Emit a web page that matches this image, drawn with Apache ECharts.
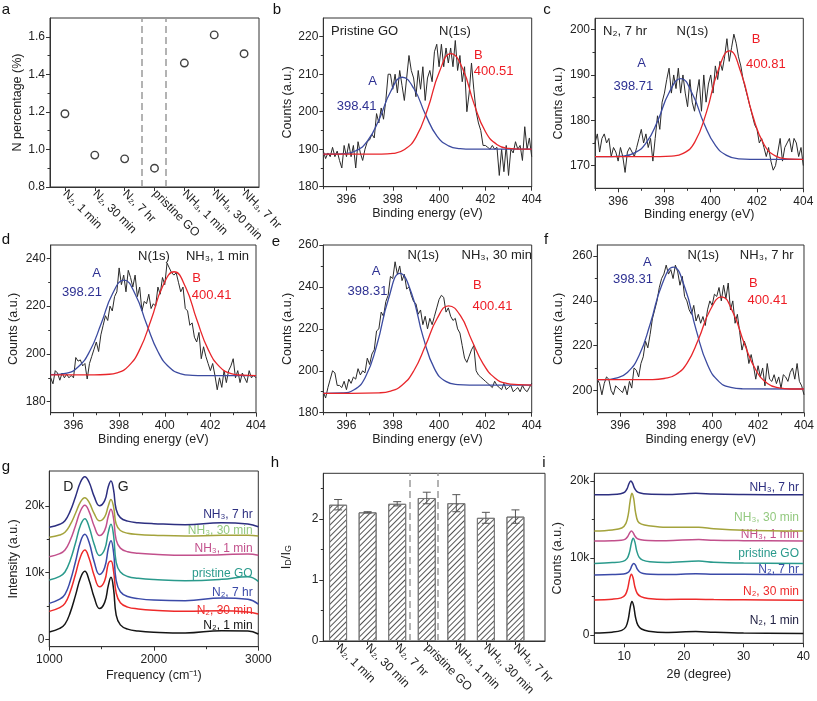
<!DOCTYPE html>
<html><head><meta charset="utf-8">
<script src="https://cdn.jsdelivr.net/npm/echarts@6.0.0/dist/echarts.min.js"></script>
<style>html,body{margin:0;padding:0;background:#fff}#c{width:817px;height:701px}</style>
</head><body><div id="c"></div>
<script>
// ---------- data ----------
const sampleCats = ['N₂, 1 min','N₂, 30 min','N₂, 7 hr','pristine GO','NH₃, 1 min','NH₃, 30 min','NH₃, 7 hr'];
const nPercent = [1.19, 0.97, 0.95, 0.90, 1.46, 1.61, 1.51];
const aDividers = [3.56, 4.39];
const idIg = [2.235, 2.11, 2.25, 2.345, 2.26, 2.02, 2.04];
const idIgErr = [0.085, 0.01, 0.035, 0.095, 0.14, 0.09, 0.11];
const hDividers = [3.41, 4.37];

// XPS raw spectra, 395.0 -> 404.0 eV, step 0.1
const xpsStart = 395.0, xpsStep = 0.1;
const bRaw = [189.5,187.5,189,188,190.5,188,189.5,187,185,191,
188,191.5,188,191,185,192,189,187,190,192,
192.5,194,193,199.5,197,201,198,203,210,210,
206,210,205,211,207,203,209,215,211,209,
204,211,206,212,203,209,211,208,216,218,
212,218,212,217,213,217,212,219,211,215,
208,212,200,205,213,206,200,197,195,191,
191,190.5,190,191,190,190.5,183,190,184,191,
183,190,189,192,190,191,187,196,190,193,188];
const cRaw = [175,177,173,176,177,175,176,172,174,173,
171,174,172,168.5,173,174,173,172,174,176,
178,175,177,174,176,171,176,181,178,184,
186,189,191.5,186,190,187,191.5,186,190,186,
183,189,184,182,186,189,182,190,184,188,
190,186,192,189,193,191,194,198,193,196,
199,197,194,192,189,187,185,183,181,179,
178,175,176,174,172,174,171,169,170,173,
176,171,174,175,176,173,176,175,172,174,170];
const dRaw = [190,187.5,193,192,189,192,190,191.5,190,191,
190,198.5,197,197.5,195,196,189.5,196,199,202,
205,201,208,212,216,214,220,218,224,226,
236,229,233,226,235,232,228,233,224,228,
218,222,221,225,219,221,220,228,225,232,
229,238,236,234,233,234,230,226,228,219,
218,212,213,207,205,209,198,203,199,196,
193,196,191,185,190,186,193,188,193,195,
198,190,193,188,192,190,188,193,190,191,190];
const eRaw = [190,187,192,196,200,199,193,193,192,195,
191,196,194,197,196,201,198,200,199,206,
203,208,210,219,220,228,226,233,236,245,
244,252,246,250,243,246,239,240,236,233,
232,227,229,222,226,220,225,222,226,230,
234,236,235,228,230,226,224,225,220,218,
212,206,204,207,210,212,200,198,197,196,
195,194,193,192,195,193,192,191,194,191,
192,193,190,191,192,190,193,191,190,192,194];
const fRaw = [205,203,198,203,206,205,200,198,202,201,
200,199,202,198,204,201,210,209,206,212,
215,222,219,225,232,236,240,246,250,252,
256,252,254,250,256,253,247,251,242,240,
236,234,238,231,234,230,233,229,236,240,
238,243,242,246,240,247,241,248,236,240,
230,234,226,218,222,219,212,216,211,205,
211,206,210,202,212,205,204,207,203,206,
201,207,206,204,208,210,205,212,204,202,198];

// XPS fitted components [eV, counts]
const bFitA = [[395,188.7],[395.41,188.7],[395.91,188.85],[396.41,189.6],[396.91,192.2],[397.41,197.95],[397.91,205.4],[398.41,209.2],[398.91,206.2],[399.41,199.3],[399.91,193.5],[400.41,190.9],[400.91,190.15],[401.41,190.0],[404,190.0]];
const bFitB = [[395,188.7],[397.51,188.7],[398.01,188.9],[398.51,189.9],[399.01,193.3],[399.51,200.8],[400.01,210.6],[400.51,215.5],[401.01,211.6],[401.51,202.1],[402.01,194.6],[402.51,191.2],[403.01,190.2],[403.51,190.0],[404,190.0]];
const cFitA = [[395,172.0],[395.71,172.0],[396.21,172.1],[396.71,172.8],[397.21,175.0],[397.71,179.9],[398.21,186.2],[398.71,189.2],[399.21,185.8],[399.71,179.3],[400.21,174.4],[400.71,172.2],[401.21,171.5],[401.71,171.4],[404,171.4]];
const cFitB = [[395,172.0],[397.81,172.0],[398.31,172.1],[398.81,172.7],[399.31,175.2],[399.81,181.7],[400.31,190.8],[400.81,195.3],[401.31,190.5],[401.81,181.1],[402.31,174.6],[402.81,172.1],[403.31,171.5],[403.81,171.4],[404,171.4]];
const dFitA = [[395,191.3],[395.71,192.0],[396.21,194.6],[396.71,201.1],[397.21,212.6],[397.71,225.2],[398.21,230.9],[398.71,224.9],[399.21,212.3],[399.71,200.8],[400.21,194.3],[400.71,191.7],[401.21,191.05],[401.71,190.9],[404,190.9]];
const dFitB = [[395,191.2],[396.91,191.2],[397.41,191.4],[397.91,192.1],[398.41,194.9],[398.91,202.0],[399.41,214.5],[399.91,228.3],[400.41,234.4],[400.91,228.0],[401.41,214.2],[401.91,201.7],[402.41,194.6],[402.91,191.8],[403.41,191.1],[404,190.9]];
const eFitA = [[395,189.2],[395.81,189.4],[396.31,190.8],[396.81,196.8],[397.31,212.2],[397.81,234.1],[398.31,246.5],[398.81,237.0],[399.31,216.2],[399.81,200.8],[400.31,194.8],[400.81,193.4],[401.31,193.2],[404,193.2]];
const eFitB = [[395,189.2],[397.41,189.5],[397.91,190.3],[398.41,193.2],[398.91,200.0],[399.41,211.9],[399.91,224.8],[400.41,231.0],[400.91,226.5],[401.41,214.6],[401.91,203.2],[402.41,196.6],[402.91,194.0],[403.41,193.4],[404,193.2]];
const fFitA = [[395,204.8],[395.31,204.8],[395.81,205.5],[396.31,208.0],[396.81,215.4],[397.31,229.9],[397.81,247.1],[398.31,255.1],[398.81,246.0],[399.31,226.8],[399.81,211.2],[400.31,203.8],[400.81,201.3],[401.31,200.7],[404,200.6]];
const fFitB = [[395,204.8],[397.41,204.8],[397.91,205.3],[398.41,207.0],[398.91,212.2],[399.41,223.0],[399.91,235.8],[400.41,241.8],[400.91,234.8],[401.41,220.7],[401.91,209.0],[402.41,203.1],[402.91,201.1],[403.41,200.6],[404,200.6]];

// Raman spectra (intensity in thousands)
const ramanX = [1000,1100,1150,1200,1250,1300,1340,1380,1430,1480,1530,1565,1590,1615,1640,1680,1750,1850,2000,2300,2650,2900,3000];
const rN2_1 = [1.1,1.65,2.28,4.01,6.56,9.29,10.2,8.92,6.28,4.64,5.55,8.1,9.3,7.55,3.63,2.17,1.54,1.26,1.08,0.95,1.3,1.25,0.8];
const rN2_30 = [4.2,4.75,5.4,7.14,9.72,12.48,13.4,12.2,9.54,7.88,8.8,11.38,11.74,10.23,6.96,5.49,4.84,4.57,4.38,4.2,4.3,4.1,3.8];
const rN2_7 = [5.4,6.02,6.75,8.71,11.61,14.72,15.75,14.6,11.6,9.74,10.78,13.67,14.8,13.05,8.8,7.15,6.42,6.11,5.9,5.8,6.2,6.0,5.3];
const rGO = [8.9,9.45,10.1,11.84,14.42,17.18,18.1,16.9,14.24,12.58,13.5,16.08,17.27,15.6,11.56,10.09,9.44,9.17,8.98,8.8,9.0,9.4,8.7];
const rNH3_1 = [12.4,12.86,13.4,14.86,17.02,19.33,20.1,19.2,16.97,15.58,16.35,18.5,19.5,18.1,14.91,13.68,13.14,12.91,12.75,12.6,12.7,12.8,12.6];
const rNH3_30 = [15.3,15.66,16.07,17.2,18.87,20.66,21.25,20.58,18.85,17.78,18.38,20.04,20.99,19.87,17.29,16.33,15.92,15.74,15.62,15.5,15.6,15.6,15.5];
const rNH3_7 = [16.8,17.26,17.79,19.23,21.36,23.64,24.4,23.6,21.41,20.04,20.8,22.93,23.76,22.41,19.48,18.26,17.73,17.5,17.35,17.2,17.5,17.3,16.9];

// XRD patterns [2theta, counts in thousands]
const xN2_1 = [[5,0.25],[8,0.37],[9.6,0.6],[10.3,1.07],[10.7,2.1],[11.0,3.53],[11.3,4.35],[11.6,3.74],[11.9,2.3],[12.3,1.27],[12.9,0.78],[14.1,0.5],[17,0.33],[22,0.45],[25,0.35],[30,0.25],[40,0.2]];
const xN2_30 = [[5,4.55],[8,4.65],[9.5,4.82],[10.2,5.22],[10.6,6.06],[10.9,7.23],[11.2,7.9],[11.5,7.4],[11.8,6.23],[12.2,5.39],[12.8,4.99],[14,4.75],[17,4.62],[22,4.65],[25,4.6],[30,4.58],[40,4.5]];
const xN2_7 = [[5,7.8],[8,7.85],[9.9,7.92],[10.6,8.1],[11.0,8.47],[11.3,9.0],[11.6,9.3],[11.9,9.08],[12.2,8.55],[12.6,8.18],[13.2,8.0],[14.4,7.9],[17,7.85],[22,7.95],[25,7.9],[30,7.88],[40,7.85]];
const xGO = [[5,9.3],[8,9.4],[9.8,9.56],[10.5,9.95],[10.9,10.76],[11.2,11.9],[11.5,12.55],[11.8,12.06],[12.1,10.93],[12.5,10.11],[13.1,9.72],[14.3,9.5],[17,9.4],[22.5,9.6],[25,9.45],[30,9.35],[40,9.3]];
const xNH3_1 = [[5,12.2],[8,12.24],[9.5,12.3],[10.2,12.46],[10.6,12.79],[10.9,13.24],[11.2,13.5],[11.5,13.3],[11.8,12.85],[12.2,12.52],[12.8,12.37],[14,12.28],[17,12.25],[22.5,12.4],[25,12.3],[30,12.25],[40,12.2]];
const xNH3_30 = [[5,13.5],[8,13.65],[9.6,13.9],[10.3,14.5],[10.7,15.7],[11.0,17.4],[11.3,18.4],[11.6,17.7],[11.9,15.95],[12.3,14.75],[12.9,14.4],[14.1,14.2],[17,14.0],[22.5,14.0],[25,13.8],[30,13.6],[40,13.5]];
const xNH3_7 = [[5,18.2],[8,18.25],[9.4,18.35],[10.1,18.56],[10.5,19.0],[10.8,19.64],[11.1,20.0],[11.4,19.73],[11.7,19.1],[12.1,18.65],[12.7,18.43],[13.9,18.3],[17,18.25],[22,18.4],[25,18.3],[30,18.25],[40,18.2]];

// ---------- helpers ----------
const FONT = '"Liberation Sans", Arial, sans-serif';
const AX = '#333';
const C = {navy:'#2d2f80', olive:'#a4a33c', pink:'#c2508c', teal:'#2a9a8c', blue:'#3b4aa8', red:'#ee2a2a', black:'#151515',
           fitBlue:'#3c4ba0', fitRed:'#e8262b', txtNavy:'#2e3192', txtRed:'#ee1c24', lgGreen:'#93c97f'};
const grids=[], xAxes=[], yAxes=[], series=[], graphic=[];

function axisMain(gi,pos,s){
  return {type:'value', gridIndex:gi, position:pos, min:s.min, max:s.max,
    axisLine:{show:true,onZero:false,lineStyle:{color:AX,width:1}},
    axisTick:{show:true,customValues:s.major,length:4,lineStyle:{color:AX,width:1}},
    axisLabel:Object.assign({show:true,customValues:s.major,formatter:s.fmt||(v=>String(v)),color:'#222',
      fontSize:s.fs||12,fontFamily:FONT,margin:s.margin!=null?s.margin:(pos==='left'?5:7),rotate:s.rotate||0},s.labelExtra||{}),
    splitLine:{show:false},
    name:s.name||'',nameLocation:'middle',nameGap:s.nameGap||20,
    nameTextStyle:Object.assign({color:'#222',fontSize:12.5,fontFamily:FONT},s.nameStyle||{})};
}
function axisMinor(gi,pos,s){
  return {type:'value',gridIndex:gi,position:pos,min:s.min,max:s.max,
    axisLine:{show:false,onZero:false},
    axisTick:{show:!!s.minor,customValues:s.minor||[s.min],length:2.5,lineStyle:{color:AX,width:1}},
    axisLabel:{show:false},splitLine:{show:false}};
}
function addPanel(rect,xs,ys){
  const gi=grids.length;
  grids.push({left:rect[0],top:rect[1],width:rect[2],height:rect[3],show:true,borderColor:AX,borderWidth:1,backgroundColor:'transparent'});
  const xi=xAxes.length; xAxes.push(axisMain(gi,'bottom',xs),axisMinor(gi,'bottom',xs));
  const yi=yAxes.length; yAxes.push(axisMain(gi,'left',ys),axisMinor(gi,'left',ys));
  return {xi,yi};
}
function line(p,data,color,width,smooth,z){
  series.push({type:'line',xAxisIndex:p.xi,yAxisIndex:p.yi,data,showSymbol:false,symbol:'none',smooth:smooth||false,
    lineStyle:{color,width},itemStyle:{color},silent:true,z:z||2});
}
function txt(text,x,y,fill,size,align,va,extra){
  graphic.push(Object.assign({type:'text',x,y,silent:true,style:{text,fill:fill||'#222',fontSize:size||12,fontFamily:FONT,
    align:align||'center',verticalAlign:va||'middle'}},extra||{}));
}
const rawPairs = arr => arr.map((v,i)=>[+(xpsStart+i*xpsStep).toFixed(1),v]);
const xpsX = {min:395,max:404,major:[396,398,400,402,404],minor:[395,397,399,401,403],name:'Binding energy (eV)',nameGap:20};
const kFmt = v => v===0?'0':v+'k';
const catLabel = {rotate:-45,fs:12,margin:5};

// ---------- panel a ----------
const pa = addPanel([50,18,209,169],
  Object.assign({min:0.5,max:7.5,major:[1,2,3,4,5,6,7],fmt:v=>sampleCats[v-1]},catLabel),
  {min:0.8,max:1.7,major:[0.8,1.0,1.2,1.4,1.6],minor:[0.9,1.1,1.3,1.5],fmt:v=>v.toFixed(1),name:'N percentage (%)',nameGap:21});
series.push({type:'scatter',xAxisIndex:pa.xi,yAxisIndex:pa.yi,data:nPercent.map((v,i)=>[i+1,v]),symbol:'circle',symbolSize:7.5,
  itemStyle:{color:'#fff',borderColor:'#111',borderWidth:1.4},silent:true,z:5,
  markLine:{silent:true,symbol:'none',label:{show:false},lineStyle:{color:'#9a9a9a',type:[7,4],width:1.5},data:aDividers.map(v=>({xAxis:v}))}});

// ---------- panels b-f (XPS) ----------
function xpsPanel(rect,ys,raw,fa,fb){
  const p=addPanel(rect,xpsX,ys);
  line(p,rawPairs(raw),'#2a2a2a',1,false,2);
  line(p,fa,C.fitBlue,1.3,true,3);
  line(p,fb,C.fitRed,1.3,true,3);
  return p;
}
const yCounts = (min,max,major,minor,gap)=>({min,max,major,minor,name:'Counts (a.u.)',nameGap:gap});
xpsPanel([323.3,18,208.4,168.7], yCounts(180,225,[180,190,200,210,220],[185,195,205,215],28), bRaw,bFitA,bFitB);
xpsPanel([595,18.3,208.3,170], yCounts(165,202.5,[170,180,190,200],[175,185,195],30), cRaw,cFitA,cFitB);
xpsPanel([50.7,245,205.3,167.7], yCounts(175.4,245.6,[180,200,220,240],[190,210,230],31), dRaw,dFitA,dFitB);
xpsPanel([323.3,245,208.4,167.7], yCounts(180,260,[180,200,220,240,260],[190,210,230,250],28), eRaw,eFitA,eFitB);
xpsPanel([597.3,245,206.7,167.7], yCounts(190,265,[200,220,240,260],[210,230,250],32), fRaw,fFitA,fFitB);

// ---------- panel g (Raman) ----------
const pg = addPanel([49.3,471,209,175.7],
  {min:1000,max:3000,major:[1000,2000,3000],minor:[1500,2500],name:'Frequency (cm⁻¹)',nameGap:22},
  {min:-1.1,max:25.25,major:[0,10,20],minor:[5,15],fmt:kFmt,name:'Intensity (a.u.)',nameGap:29});
const rz = a => ramanX.map((x,i)=>[x,a[i]]);
[[rN2_1,C.black],[rN2_30,C.red],[rN2_7,C.blue],[rGO,C.teal],[rNH3_1,C.pink],[rNH3_30,C.olive],[rNH3_7,C.navy]]
  .forEach(([a,c])=>line(pg,rz(a),c,1.5,0.45,3));

// ---------- panel h (ID/IG bars) ----------
const ph = addPanel([323.3,473.3,221.7,167.7],
  Object.assign({min:0.5,max:8,major:[1,2,3,4,5,6,7],fmt:v=>sampleCats[v-1]},catLabel),
  {min:0,max:2.75,major:[0,1,2],minor:[0.5,1.5,2.5],
   name:'{i|I}{s|D}{i|/I}{s|G}',nameGap:27,
   nameStyle:{rich:{i:{fontSize:13,fontFamily:FONT,color:'#222',padding:[0,0,3,0]},s:{fontSize:9,fontFamily:FONT,color:'#222'}}}});
series.push({type:'bar',xAxisIndex:ph.xi,yAxisIndex:ph.yi,data:idIg.map((v,i)=>[i+1,v]),barWidth:18,silent:true,z:2,
  itemStyle:{color:'#fff',borderColor:'#7a7a7a',borderWidth:1,
    decal:{symbol:'rect',symbolSize:1,color:'#555',dashArrayX:[1,0],dashArrayY:[1,2.5],rotation:-Math.PI/4}},
  markLine:{silent:true,symbol:'none',label:{show:false},lineStyle:{color:'#9a9a9a',type:[7,4],width:1.5},data:hDividers.map(v=>({xAxis:v}))}});
series.push({type:'custom',xAxisIndex:ph.xi,yAxisIndex:ph.yi,silent:true,z:4,
  data:idIg.map((v,i)=>[i+1,v,idIgErr[i]]),encode:{x:0,y:1},
  renderItem:(params,api)=>{
    const x=api.value(0),y=api.value(1),e=api.value(2);
    const t=api.coord([x,y+e]),b=api.coord([x,y-e]),hw=4;
    const st={stroke:'#555',lineWidth:1};
    return {type:'group',children:[
      {type:'line',shape:{x1:t[0],y1:t[1],x2:b[0],y2:b[1]},style:st},
      {type:'line',shape:{x1:t[0]-hw,y1:t[1],x2:t[0]+hw,y2:t[1]},style:st},
      {type:'line',shape:{x1:b[0]-hw,y1:b[1],x2:b[0]+hw,y2:b[1]},style:st}]};
  }});

// ---------- panel i (XRD) ----------
const pi = addPanel([594.3,473.3,209,170],
  {min:5,max:40,major:[10,20,30,40],minor:[15,25,35],name:'2θ (degree)',nameGap:25},
  {min:-1.08,max:21,major:[0,10,20],minor:[5,15],fmt:kFmt,name:'Counts (a.u.)',nameGap:30});
[[xN2_1,C.black],[xN2_30,C.red],[xN2_7,C.blue],[xGO,C.teal],[xNH3_1,C.pink],[xNH3_30,C.olive],[xNH3_7,C.navy]]
  .forEach(([a,c])=>line(pi,a,c,1.5,0.35,3));

// ---------- annotations ----------
[['a',6,10],['b',277,10],['c',547,10],['d',6,240],['e',276,242],['f',546,240],['g',6,467],['h',275,463],['i',544,463]]
  .forEach(([t,x,y])=>txt(t,x,y,'#111',15));
// b
txt('Pristine GO',331,31.7,'#222',13,'left'); txt('N(1s)',455,31.7,'#222',13);
txt('A',372.7,81,C.txtNavy,13); txt('398.41',356.7,106,C.txtNavy,13);
txt('B',478.3,55,C.txtRed,13); txt('400.51',493.7,71.7,C.txtRed,13);
// c
txt('N₂, 7 hr',603,31.7,'#222',13,'left'); txt('N(1s)',692.5,31.7,'#222',13);
txt('A',641.7,63.3,C.txtNavy,13); txt('398.71',633.3,86,C.txtNavy,13);
txt('B',756,39.3,C.txtRed,13); txt('400.81',765.8,64,C.txtRed,13);
// d
txt('N(1s)',154,256,'#222',13); txt('NH₃, 1 min',217.5,256,'#222',13);
txt('A',96.7,273.3,C.txtNavy,13); txt('398.21',82,292.3,C.txtNavy,13);
txt('B',196.7,278.3,C.txtRed,13); txt('400.41',211.7,295.7,C.txtRed,13);
// e
txt('N(1s)',423.3,255,'#222',13); txt('NH₃, 30 min',496.7,255,'#222',13);
txt('A',376,271.7,C.txtNavy,13); txt('398.31',367.5,291.7,C.txtNavy,13);
txt('B',477.3,285,C.txtRed,13); txt('400.41',492.5,306,C.txtRed,13);
// f
txt('N(1s)',703.3,255,'#222',13); txt('NH₃, 7 hr',766.7,255,'#222',13);
txt('A',647.3,262.3,C.txtNavy,13); txt('398.31',633,279.3,C.txtNavy,13);
txt('B',753.3,283.3,C.txtRed,13); txt('400.41',767.5,300,C.txtRed,13);
// g
txt('D',68.3,487.3,'#222',14); txt('G',123.3,487.3,'#222',14);
const gLab = [['NH₃, 7 hr',515,C.navy],['NH₃, 30 min',531,C.lgGreen],['NH₃, 1 min',548.3,C.pink],['pristine GO',573.3,C.teal],
  ['N₂, 7 hr',592.7,C.blue],['N₂, 30 min',611,C.red],['N₂, 1 min',626,'#111']];
gLab.forEach(([t,y,c])=>txt(t,252.7,y,c,12,'right'));
const iLab = [['NH₃, 7 hr',487.3,C.navy],['NH₃, 30 min',517.7,C.lgGreen],['NH₃, 1 min',534.3,C.pink],['pristine GO',553.3,C.teal],
  ['N₂, 7 hr',570,C.blue],['N₂, 30 min',591.7,C.red],['N₂, 1 min',620.7,'#222244']];
iLab.forEach(([t,y,c])=>txt(t,799,y,c,12,'right'));

const chart = echarts.init(document.getElementById('c'),null,{renderer:'canvas'});
chart.setOption({animation:false,backgroundColor:'#fff',textStyle:{fontFamily:FONT},
  grid:grids,xAxis:xAxes,yAxis:yAxes,series,graphic});
</script></body></html>
